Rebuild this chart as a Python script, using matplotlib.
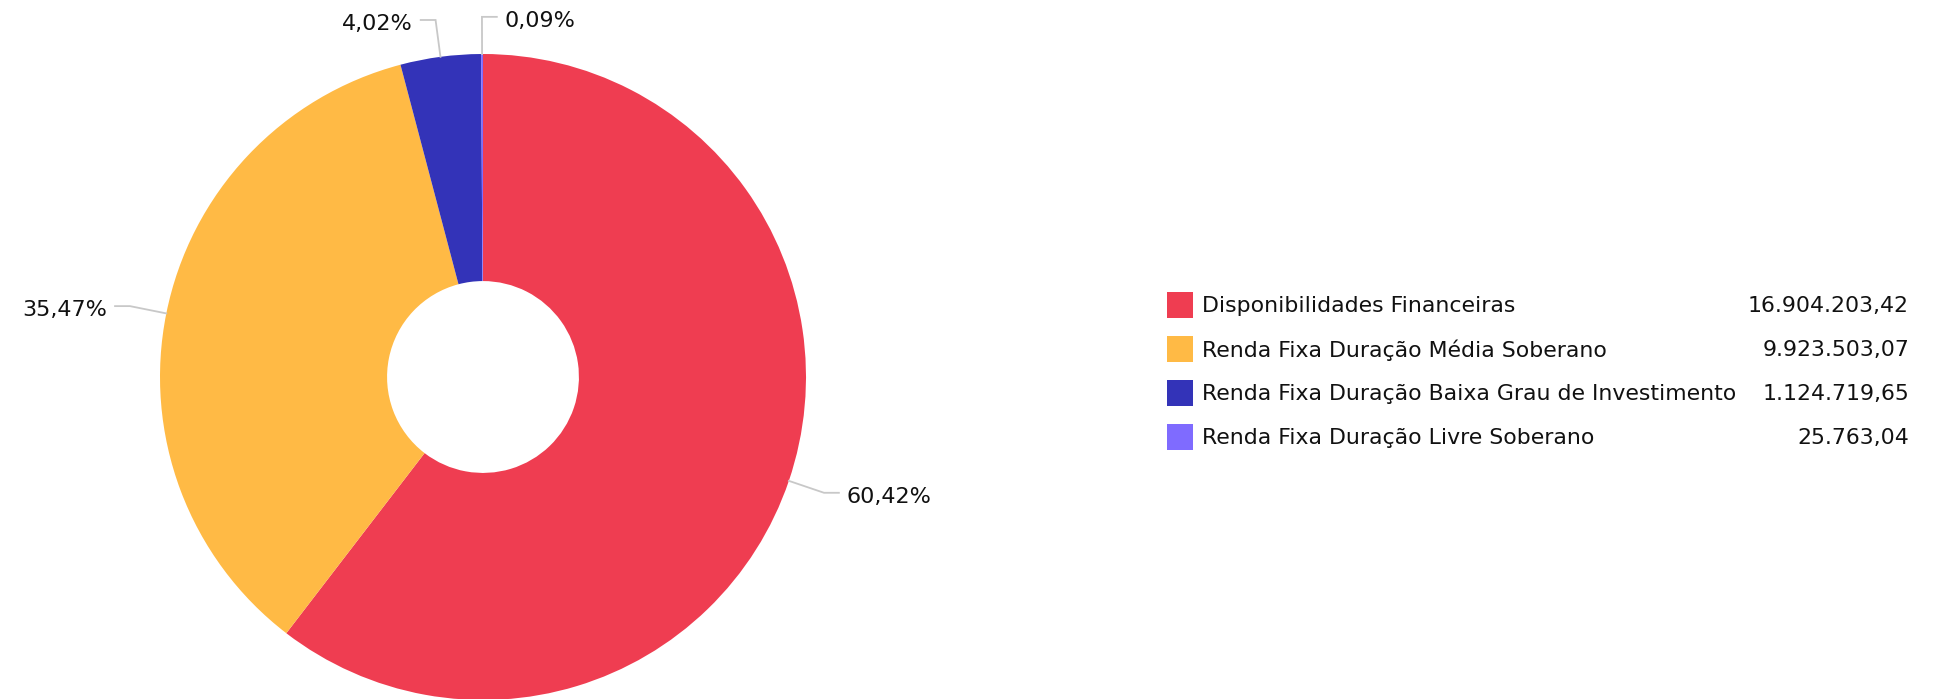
import numpy as np
import matplotlib
matplotlib.use("Agg")
import matplotlib.pyplot as plt
from matplotlib.patches import Rectangle

categories = [
    "Disponibilidades Financeiras",
    "Renda Fixa Duração Média Soberano",
    "Renda Fixa Duração Baixa Grau de Investimento",
    "Renda Fixa Duração Livre Soberano",
]
values = [16904203.42, 9923503.07, 1124719.65, 25763.04]
colors = ["#EF3D51", "#FFBA45", "#3333B8", "#7F6BFF"]


def br(v, dec=2):
    s = f"{v:,.{dec}f}"
    return s.replace(",", "X").replace(".", ",").replace("X", ".")


W, H = 1937, 699
CX, CY, R = 483, 377, 323  # pie centre / radius in pixels


def px(x, y):
    return (x - CX) / R, (CY - y) / R


fig = plt.figure(figsize=(W / 100, H / 100), dpi=100)
ax = fig.add_axes([0, 0, 1, 1])

wedges, _ = ax.pie(
    values, colors=colors, startangle=90, counterclock=False, radius=1,
    wedgeprops=dict(width=0.703, linewidth=0),
)
ax.set_xlim(-CX / R, (W - CX) / R)
ax.set_ylim(-(H - CY) / R, CY / R)
ax.set_aspect("equal", adjustable="box")
ax.axis("off")

total = sum(values)
for w, v in zip(wedges, values):
    mid = np.deg2rad((w.theta1 + w.theta2) / 2)
    c, s = np.cos(mid), np.sin(mid)
    side = 1 if c >= -0.01 else -1
    ex, ey = 1.115 * c, 1.115 * s
    hx = ex + side * 0.046
    ax.plot([c, ex, hx], [s, ey, ey], color="#c8c8c8", lw=1.3,
            solid_joinstyle="miter", zorder=1)
    ax.text(hx + side * 0.025, ey - 4 / R, br(v / total * 100) + "%",
            ha="left" if side > 0 else "right", va="center",
            fontsize=16, color="#111111")

# legend
rows_y = [305, 349, 393, 437]
for name, v, col, yy in zip(categories, values, colors, rows_y):
    x0, y0 = px(1167, yy + 13)
    ax.add_patch(Rectangle((x0, y0), 26 / R, 26 / R, facecolor=col,
                           edgecolor="none"))
    tx, ty = px(1202, yy + 1)
    ax.text(tx, ty, name, ha="left", va="center", fontsize=15.8,
            color="#111111")
    vx, vy = px(1909, yy + 1)
    ax.text(vx, vy, br(v), ha="right", va="center", fontsize=15.8,
            color="#111111")

fig.savefig("out.png", dpi=100)
